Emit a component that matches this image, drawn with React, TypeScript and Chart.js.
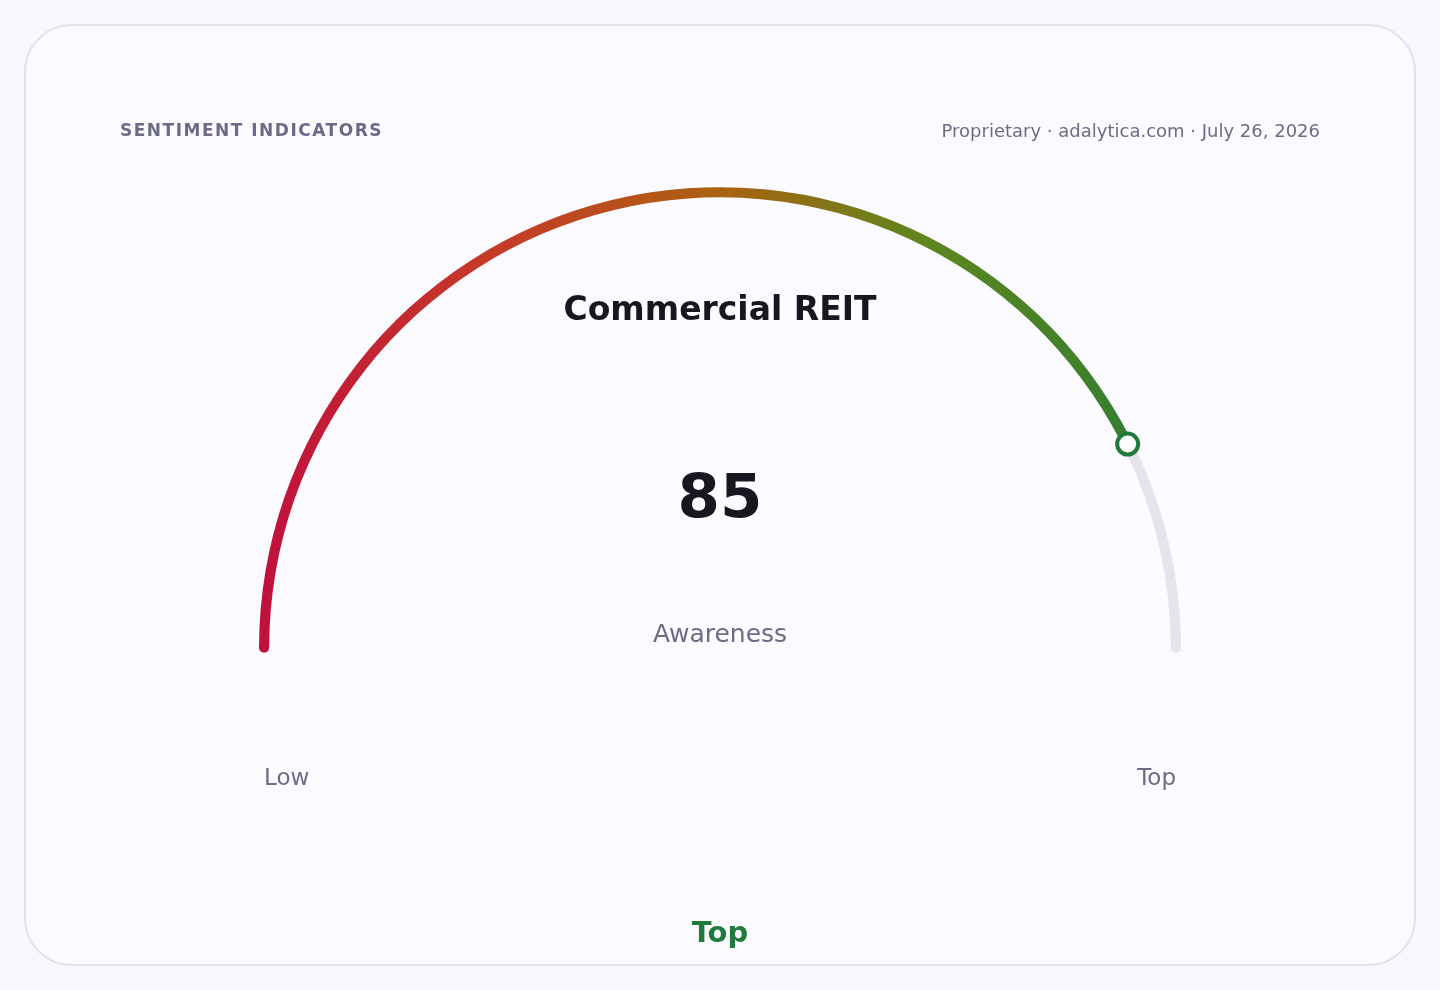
import { useEffect, useRef } from 'react';
import { Chart, DoughnutController, ArcElement, Plugin } from 'chart.js';

Chart.register(DoughnutController, ArcElement);

// gauge data
const gaugeLabels = ['Awareness', 'Remaining'];
const gaugeValue = 85;
const gaugeMax = 100;
const gaugeValues = [gaugeValue, gaugeMax - gaugeValue];

const gradientStops: [number, string][] = [
  [0, '#c0103c'],
  [0.25, '#c63a28'],
  [0.5, '#ab6210'],
  [0.72, '#5f861e'],
  [1, '#2a7d32'],
];

// the rounded ends sit inside the arc, so stretch it a little past the horizon
const CAP_DEG = 0.57;

const FONT = '"DejaVu Sans", "Noto Sans", sans-serif';
const GREEN = '#1f7a3c';
const MUTED = '#6c6c84';

// small ring on the end of the value arc
const markerPlugin: Plugin<'doughnut'> = {
  id: 'gaugeMarker',
  afterDatasetsDraw(chart) {
    const meta = chart.getDatasetMeta(0);
    const arc: any = meta.data[0];
    if (!arc) return;
    const { x, y, endAngle, outerRadius, innerRadius } = arc.getProps(
      ['x', 'y', 'endAngle', 'outerRadius', 'innerRadius'],
      true
    );
    const r = (outerRadius + innerRadius) / 2;
    const px = x + Math.cos(endAngle) * r;
    const py = y + Math.sin(endAngle) * r;
    const ctx = chart.ctx;
    ctx.save();
    ctx.beginPath();
    ctx.arc(px, py, 10.5, 0, Math.PI * 2);
    ctx.fillStyle = '#ffffff';
    ctx.fill();
    ctx.lineWidth = 4;
    ctx.strokeStyle = GREEN;
    ctx.stroke();
    ctx.restore();
  },
};

function label(
  text: string,
  top: number,
  style: React.CSSProperties
): JSX.Element {
  return (
    <div
      style={{
        position: 'absolute',
        top,
        lineHeight: 1,
        fontFamily: FONT,
        whiteSpace: 'nowrap',
        ...style,
      }}
    >
      {text}
    </div>
  );
}

export default function App() {
  const canvasRef = useRef<HTMLCanvasElement | null>(null);
  const chartRef = useRef<Chart<'doughnut'> | null>(null);

  useEffect(() => {
    document.body.style.margin = '0';
    const ctx = canvasRef.current!.getContext('2d')!;

    if (chartRef.current) {
      chartRef.current.destroy();
      chartRef.current = null;
    }

    chartRef.current = new Chart(ctx, {
      type: 'doughnut',
      data: {
        labels: gaugeLabels,
        datasets: [
          {
            data: gaugeValues,
            backgroundColor: (c: any) => {
              if (c.dataIndex === 1) return '#e4e4ea';
              const area = c.chart.chartArea;
              if (!area) return gradientStops[0][1];
              const g = c.chart.ctx.createLinearGradient(area.left, 0, area.right, 0);
              gradientStops.forEach(([o, col]) => g.addColorStop(o, col));
              return g;
            },
            borderWidth: 0,
            borderRadius: 5,
            clip: false as any,
          },
        ],
      },
      options: {
        responsive: false,
        animation: false,
        rotation: -90 - CAP_DEG,
        circumference: 180 + 2 * CAP_DEG,
        cutout: '97.8%',
        layout: { padding: { left: 259, right: 259, top: 185, bottom: 335 } },
        plugins: { legend: { display: false }, tooltip: { enabled: false } },
        events: [],
      },
      plugins: [markerPlugin],
    });

    return () => {
      if (chartRef.current) {
        chartRef.current.destroy();
        chartRef.current = null;
      }
    };
  }, []);

  return (
    <div
      style={{
        position: 'relative',
        width: 1440,
        height: 990,
        background: '#f8f8fc',
        overflow: 'hidden',
      }}
    >
      <div
        style={{
          position: 'absolute',
          left: 24,
          top: 24,
          width: 1388,
          height: 938,
          border: '2px solid #e2e2ee',
          borderRadius: 48,
          background: '#fafaff',
        }}
      />
      <canvas
        ref={canvasRef}
        width={1440}
        height={990}
        style={{ position: 'absolute', left: 0, top: 0, width: 1440, height: 990 }}
      />
      {label('SENTIMENT INDICATORS', 122, {
        left: 120,
        fontSize: 17,
        fontWeight: 700,
        letterSpacing: 1.5,
        color: '#6b6b88',
      })}
      {label('Proprietary · adalytica.com · July 26, 2026', 122, {
        right: 120,
        fontSize: 18,
        color: MUTED,
      })}
      {label('Commercial REIT', 292, {
        left: 0,
        width: 1440,
        textAlign: 'center',
        fontSize: 33,
        fontWeight: 700,
        color: '#17171f',
      })}
      {label(String(gaugeValue), 465, {
        left: 0,
        width: 1440,
        textAlign: 'center',
        fontSize: 61,
        fontWeight: 700,
        color: '#17171f',
      })}
      {label('Awareness', 621, {
        left: 0,
        width: 1440,
        textAlign: 'center',
        fontSize: 25,
        color: MUTED,
      })}
      {label('Low', 766, { left: 264, fontSize: 23, color: MUTED })}
      {label('Top', 766, { right: 1440 - 1176, fontSize: 23, color: MUTED })}
      {label('Top', 918, {
        left: 0,
        width: 1440,
        textAlign: 'center',
        fontSize: 29,
        fontWeight: 700,
        color: GREEN,
      })}
    </div>
  );
}
